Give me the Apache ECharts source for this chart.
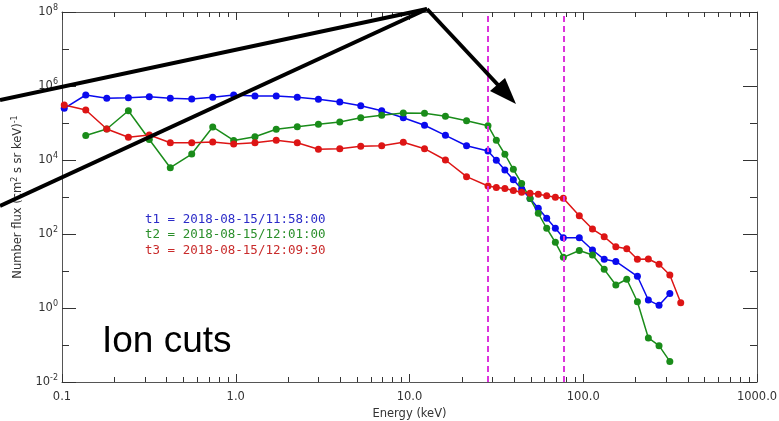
<!DOCTYPE html>
<html>
<head>
<meta charset="utf-8">
<script src="https://cdn.jsdelivr.net/npm/echarts@6/dist/echarts.min.js"></script>
<style>
  html, body { margin: 0; padding: 0; background: #fff; }
  #main { width: 779px; height: 421px; }
</style>
</head>
<body>
<div id="main"></div>
<script>
var dom = document.getElementById('main');
var myChart = echarts.init(dom, null, { renderer: 'canvas' });

// energy channels (keV)
const energy = [0.103, 0.137, 0.181, 0.241, 0.318, 0.420, 0.558, 0.737, 0.973, 1.29,
  1.71, 2.26, 2.99, 3.97, 5.24, 6.92, 9.21, 12.2, 16.1, 21.3,
  28.3, 31.6, 35.4, 39.6, 44.2, 49.4, 55.1, 61.6, 69.1, 76.8,
  94.9, 113, 132, 154, 178, 205, 237, 273, 315, 364];

// number flux for each time cut
const fluxT1 = [2.50e5, 5.71e5, 4.65e5, 4.83e5, 5.14e5, 4.65e5, 4.45e5, 4.95e5, 5.71e5, 5.37e5,
  5.37e5, 4.95e5, 4.37e5, 3.70e5, 2.94e5, 2.15e5, 1.39e5, 8.67e4, 4.65e4, 2.43e4,
  1.75e4, 9.82e3, 5.37e3, 2.94e3, 1.64e3, 910, 495, 266, 143, 79.4,
  79.4, 36.9, 20.7, 18.1, null, 7.19, 1.64, 1.18, 2.46, null];
const fluxT2 = [null, 4.59e4, 6.88e4, 2.15e5, 3.58e4, 6.19e3, 1.45e4, 7.8e4, 3.37e4, 4.26e4,
  6.76e4, 7.94e4, 9.22e4, 1.06e5, 1.39e5, 1.61e5, 1.86e5, 1.84e5, 1.52e5, 1.15e5,
  8.46e4, 3.41e4, 1.43e4, 5.61e3, 2.32e3, 910, 362, 143, 59.7, 23.4,
  35.8, 27.1, 11.1, 4.19, 5.97, 1.48, 0.155, 0.096, 0.036, null];
const fluxT3 = [3.06e5, 2.25e5, 6.88e4, 4.11e4, 4.74e4, 2.94e4, 2.94e4, 3.06e4, 2.71e4, 2.94e4,
  3.41e4, 2.94e4, 1.95e4, 2.02e4, 2.35e4, 2.43e4, 3.01e4, 2.02e4, 1.0e4, 3.54e3,
  1.98e3, 1.81e3, 1.70e3, 1.50e3, 1.34e3, 1.26e3, 1.18e3, 1.08e3, 982, 923,
  313, 136, 84.5, 45.4, 40.1, 20.7, 21.1, 15.2, 7.8, 1.39];

const seriesNames = ['t1 = 2018-08-15/11:58:00', 't2 = 2018-08-15/12:01:00', 't3 = 2018-08-15/12:09:30'];
const cutEnergies = [28.3, 76.8];

const xMajor = [0.1, 1, 10, 100, 1000];
const xMinor = [];
for (let d = 0.1; d < 1000; d *= 10) {
  for (let k = 2; k <= 9; k++) xMinor.push(+(k * d).toPrecision(3));
}
const yMajor = [1e-2, 1, 1e2, 1e4, 1e6, 1e8];
const yMinor = [1e-1, 1e1, 1e3, 1e5, 1e7];

const colors = ['#0a0aee', '#1a8c1a', '#dd1515'];
const legendColors = ['#2b2bc8', '#2b8f2b', '#c92b2b'];
const axisColor = '#555';
const font = 'DejaVu Sans';

// main: draws axis line (and labels/name when on bottom/left)
function xAxisOf(pos, ticks, len, main) {
  const withLabels = main && pos === 'bottom';
  return {
    type: 'log', logBase: 10, min: 0.1, max: 1000, position: pos,
    axisLine: { show: main, lineStyle: { color: axisColor, width: 1 } },
    axisTick: { show: true, inside: true, length: len, customValues: ticks, lineStyle: { color: '#333' } },
    axisLabel: withLabels ? {
      show: true, customValues: xMajor, margin: 9, color: '#333', fontFamily: font, fontSize: 11.5,
      formatter: function (v) { return Number(v).toFixed(1); }
    } : { show: false },
    splitLine: { show: false },
    name: withLabels ? 'Energy (keV)' : '',
    nameLocation: 'middle', nameGap: 25,
    nameTextStyle: { color: '#333', fontFamily: font, fontSize: 11.5 }
  };
}
function yAxisOf(pos, ticks, len, main) {
  const withLabels = main && pos === 'left';
  return {
    type: 'log', logBase: 10, min: 0.01, max: 1e8, position: pos,
    axisLine: { show: main, lineStyle: { color: axisColor, width: 1 } },
    axisTick: { show: true, inside: true, length: len, customValues: ticks, lineStyle: { color: '#333' } },
    axisLabel: withLabels ? {
      show: true, customValues: yMajor, margin: 4, color: '#333', fontFamily: font,
      formatter: function (v) { return '{b|10}{s|' + Math.round(Math.log10(v)) + '}'; },
      rich: {
        b: { fontSize: 11.5, fontFamily: font, color: '#333' },
        s: { fontSize: 8, fontFamily: font, color: '#333', padding: [0, 0, 8, 0] }
      }
    } : { show: false },
    splitLine: { show: false },
    name: withLabels ? 'Number flux (cm{s|2} s sr keV){s|-1}' : '',
    nameLocation: 'middle', nameGap: 35, nameRotate: 90,
    nameTextStyle: {
      color: '#333', fontFamily: font, fontSize: 11.5,
      rich: { s: { fontSize: 8, fontFamily: font, color: '#333', padding: [0, 0, 8, 0] } }
    }
  };
}

function lineSeries(i, flux) {
  return {
    name: seriesNames[i],
    type: 'line',
    xAxisIndex: 0, yAxisIndex: 0,
    data: energy.map(function (e, j) { return [e, flux[j]]; }),
    connectNulls: true,
    symbol: 'circle', symbolSize: 7,
    showAllSymbol: true,
    itemStyle: { color: colors[i] },
    lineStyle: { color: colors[i], width: 1.5 },
    emphasis: { disabled: true },
    animation: false
  };
}

const series = [lineSeries(0, fluxT1), lineSeries(1, fluxT2), lineSeries(2, fluxT3)];
series[0].markLine = {
  silent: true, symbol: ['none', 'none'], label: { show: false },
  lineStyle: { color: '#dd33dd', type: [6, 4], width: 2 },
  data: cutEnergies.map(function (e) { return { xAxis: e }; }),
  animation: false
};

var option = {
  backgroundColor: '#fff',
  animation: false,
  grid: { left: 62, right: 22, top: 12, bottom: 39, containLabel: false, outerBoundsMode: 'none' },
  xAxis: [
    xAxisOf('bottom', xMajor, 8, true),
    xAxisOf('bottom', xMinor, 5, false),
    xAxisOf('top', xMajor, 8, true),
    xAxisOf('top', xMinor, 5, false)
  ],
  yAxis: [
    yAxisOf('left', yMajor, 14, true),
    yAxisOf('left', yMinor, 7, false),
    yAxisOf('right', yMajor, 14, true),
    yAxisOf('right', yMinor, 7, false)
  ],
  legend: {
    orient: 'vertical', left: 140, top: 212, padding: 0,
    itemWidth: 0, itemHeight: 0, itemGap: 1,
    selectedMode: false,
    textStyle: { fontFamily: 'DejaVu Sans Mono', fontSize: 12.5, lineHeight: 14.5 },
    data: seriesNames.map(function (n, i) {
      return { name: n, icon: 'circle', textStyle: { color: legendColors[i] } };
    })
  },
  series: series,
  graphic: [
    { type: 'line', z: 100, shape: { x1: 0, y1: 100, x2: 427, y2: 9 }, style: { stroke: '#000', lineWidth: 4 } },
    { type: 'line', z: 100, shape: { x1: 0, y1: 206, x2: 427, y2: 9 }, style: { stroke: '#000', lineWidth: 4 } },
    { type: 'line', z: 100, shape: { x1: 427, y1: 9, x2: 499, y2: 86 }, style: { stroke: '#000', lineWidth: 4 } },
    { type: 'polygon', z: 100, shape: { points: [[490, 91], [505, 78], [516, 104]] }, style: { fill: '#000' } },
    { type: 'text', z: 100, style: { text: 'Ion cuts', x: 102, y: 342, verticalAlign: 'middle', font: '37px "Liberation Sans"', fill: '#000' } }
  ]
};

myChart.setOption(option);
window.addEventListener('resize', myChart.resize);
</script>
</body>
</html>
